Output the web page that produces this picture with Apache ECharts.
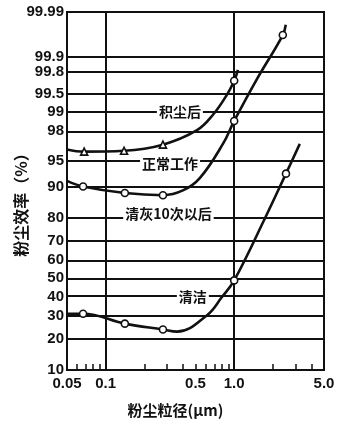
<!DOCTYPE html>
<html>
<head>
<meta charset="utf-8">
<script src="https://cdn.jsdelivr.net/npm/echarts@6/dist/echarts.min.js"></script>
<style>
html,body{margin:0;padding:0;background:#fff;}
#chart{width:355px;height:430px;}
</style>
</head>
<body>
<div id="chart"></div>
<script>
// ---- data ----
const xTickLabels = ['0.05', '0.1', '0.5', '1.0', '5.0'];
const xMinorTicks = [0.06, 0.07, 0.08, 0.09, 0.2, 0.3, 0.4, 0.5, 0.6, 0.7, 0.8, 0.9, 2, 3, 4];
const xGridLines = [0.1, 1.0];
const yTickLabels = ['10', '20', '30', '40', '50', '60', '70', '80', '90', '95', '98', '99', '99.5', '99.8', '99.9', '99.99'];

// 积尘后 (dust-loaded)
const dustDiam = [0.05, 0.068, 0.139, 0.279, 0.514, 0.684, 0.877, 1.0, 1.07];
const dustEff  = [96.4, 96.15, 96.25, 96.9, 98.07, 98.88, 99.48, 99.71, 99.82];
const dustMark = ['', 'triangle', 'triangle', 'triangle', '', '', '', 'circle', ''];

// curve through 90 %
const normDiam = [0.05, 0.0667, 0.141, 0.279, 0.399, 0.542, 0.817, 1.0, 1.503, 2.39, 2.52];
const normEff  = [91.3, 90.0, 88.3, 87.7, 89.0, 91.96, 96.97, 98.6, 99.73, 99.966, 99.98];
const normMark = ['', 'circle', 'circle', 'circle', '', '', '', 'circle', '', 'circle', ''];

// 清洁 (clean)
const cleanDiam = [0.05, 0.0667, 0.141, 0.279, 0.359, 0.615, 0.8, 1.0, 1.74, 2.53, 3.24];
const cleanEff  = [31.0, 31.0, 26.3, 23.7, 22.8, 30.3, 39.5, 48.8, 80, 92.8, 96.97];
const cleanMark = ['', 'circle', 'circle', 'circle', '', '', '', 'circle', '', 'circle', ''];

// curve labels: [text, diameter, efficiency]
const curveLabels = [
  ['积尘后', 0.378, 99.0],
  ['正常工作', 0.317, 94.5],
  ['清灰10次以后', 0.308, 81.5],
  ['清洁', 0.477, 40.0]
];

// ---- scale helpers (log x, probability y) ----
function probit(p) {
  const a = [-3.969683028665376e+01, 2.209460984245205e+02, -2.759285104469687e+02, 1.383577518672690e+02, -3.066479806614716e+01, 2.506628277459239e+00];
  const b = [-5.447609879822406e+01, 1.615858368580409e+02, -1.556989798598866e+02, 6.680131188771972e+01, -1.328068155288572e+01];
  const c = [-7.784894002430293e-03, -3.223964580411365e-01, -2.400758277161838e+00, -2.549732539343734e+00, 4.374664141464968e+00, 2.938163982698783e+00];
  const d = [7.784695709041462e-03, 3.224671290700398e-01, 2.445134137142996e+00, 3.754408661907416e+00];
  const pl = 0.02425, ph = 1 - pl;
  let q, r;
  if (p < pl) {
    q = Math.sqrt(-2 * Math.log(p));
    return (((((c[0]*q+c[1])*q+c[2])*q+c[3])*q+c[4])*q+c[5]) / ((((d[0]*q+d[1])*q+d[2])*q+d[3])*q+1);
  } else if (p <= ph) {
    q = p - 0.5; r = q * q;
    return (((((a[0]*r+a[1])*r+a[2])*r+a[3])*r+a[4])*r+a[5])*q / (((((b[0]*r+b[1])*r+b[2])*r+b[3])*r+b[4])*r+1);
  } else {
    q = Math.sqrt(-2 * Math.log(1 - p));
    return -(((((c[0]*q+c[1])*q+c[2])*q+c[3])*q+c[4])*q+c[5]) / ((((d[0]*q+d[1])*q+d[2])*q+d[3])*q+1);
  }
}
const X = v => Math.log10(v);
const Y = pct => probit(pct / 100);

const numFont = "'Liberation Sans', Arial, sans-serif";
const cjkFont = "'Noto Sans CJK SC', sans-serif";

const xLabelVals = xTickLabels.map(s => X(parseFloat(s)));
const yLabelVals = yTickLabels.map(s => Y(parseFloat(s)));
function nearest(vals, labels, v) {
  let best = 0;
  for (let i = 1; i < vals.length; i++) if (Math.abs(vals[i] - v) < Math.abs(vals[best] - v)) best = i;
  return labels[best];
}

function buildData(diam, eff, mark) {
  return diam.map((dd, i) => {
    const item = { value: [X(dd), Y(eff[i])] };
    item.symbol = mark[i] ? mark[i] : 'none';
    return item;
  });
}

function curve(name, diam, eff, mark) {
  return {
    name: name, type: 'line', z: 5, smooth: 0.4,
    data: buildData(diam, eff, mark),
    showSymbol: true, symbolSize: 7,
    itemStyle: { color: '#fff', borderColor: '#111', borderWidth: 1.6 },
    lineStyle: { color: '#111', width: 2.6 },
    emphasis: { disabled: true }, animation: false
  };
}

const gridLineData = yLabelVals.slice(1, -1).map(v => ({ yAxis: v }))
  .concat(xGridLines.map(v => ({ xAxis: X(v) })));

const labelData = curveLabels.map(l => ({
  coord: [X(l[1]), Y(l[2])],
  label: { formatter: l[0] }
}));

const chart = echarts.init(document.getElementById('chart'), null, { renderer: 'canvas' });
chart.setOption({
  animation: false,
  backgroundColor: '#fff',
  grid: {
    left: 67, right: 31, top: 12, bottom: 60, containLabel: false, outerBoundsMode: 'none',
    show: true, borderColor: '#111', borderWidth: 2, backgroundColor: 'transparent'
  },
  xAxis: [{
    type: 'value', min: X(0.05), max: X(5), z: 10,
    axisLine: { show: true, onZero: false, lineStyle: { color: '#111', width: 2 } },
    axisTick: { show: true, inside: true, length: 6, customValues: xMinorTicks.map(X), lineStyle: { color: '#111', width: 1.5 } },
    axisLabel: {
      customValues: xLabelVals,
      formatter: v => nearest(xLabelVals, xTickLabels, v),
      fontFamily: numFont, fontSize: 15, fontWeight: 'bold', color: '#111', margin: 6
    },
    splitLine: { show: false },
    name: '粉尘粒径(μm)', nameLocation: 'middle', nameGap: 33,
    nameTextStyle: { fontFamily: cjkFont, fontSize: 15, fontWeight: 'bold', color: '#111', padding: [0, 40, 0, 0] }
  }],
  yAxis: {
    type: 'value', min: Y(10), max: Y(99.99),
    axisLine: { show: true, onZero: false, lineStyle: { color: '#111', width: 2 } },
    axisTick: { show: false },
    axisLabel: {
      customValues: yLabelVals,
      formatter: v => nearest(yLabelVals, yTickLabels, v),
      fontFamily: numFont, fontSize: 15, fontWeight: 'bold', color: '#111', margin: 3
    },
    splitLine: { show: false },
    name: '粉尘效率（%）', nameLocation: 'middle', nameGap: 38, nameRotate: 90, nameMoveOverlap: false,
    nameTextStyle: { fontFamily: cjkFont, fontSize: 16, fontWeight: 'bold', color: '#111', padding: [0, 20, 0, 0] }
  },
  series: [
    {
      type: 'line', z: 1, data: [], silent: true,
      markLine: {
        silent: true, symbol: ['none', 'none'], label: { show: false },
        lineStyle: { color: '#111', width: 2, type: 'solid' },
        emphasis: { disabled: true },
        data: gridLineData, animation: false
      },
      markPoint: {
        silent: true, symbol: 'rect', symbolSize: [1, 1],
        itemStyle: { color: 'rgba(0,0,0,0)' },
        label: {
          show: true, position: 'inside', color: '#111', fontFamily: cjkFont, fontSize: 14, fontWeight: 'bold',
          backgroundColor: '#fff', padding: [0, 2]
        },
        data: labelData, animation: false
      }
    },
    curve('积尘后', dustDiam, dustEff, dustMark),
    curve('正常工作', normDiam, normEff, normMark),
    curve('清洁', cleanDiam, cleanEff, cleanMark)
  ]
});
</script>
</body>
</html>
